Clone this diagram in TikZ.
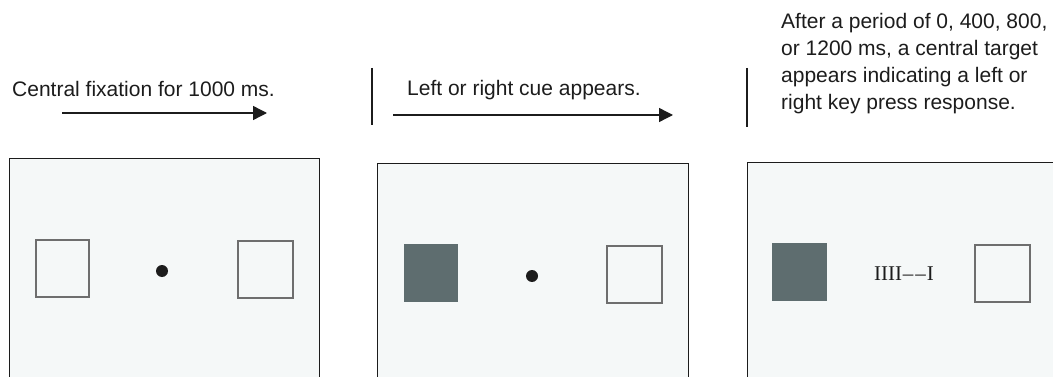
\documentclass[tikz,border=0pt]{standalone}
\usepackage{fontspec}
\setmainfont{Liberation Sans}
\newfontfamily\serifface{Liberation Serif}
\usetikzlibrary{arrows.meta}
\definecolor{panelbg}{HTML}{F5F8F8}
\definecolor{cuefill}{HTML}{5E6D6F}
\definecolor{sqline}{HTML}{6E6E6E}
\definecolor{ink}{HTML}{1C1C1C}
\begin{document}
\begin{tikzpicture}[x=1pt,y=1pt,
  panel/.style={draw=ink, line width=1.4pt, fill=panelbg, rectangle, inner sep=0pt, anchor=north west},
  emptysq/.style={draw=sqline, line width=1.2pt, fill=panelbg, rectangle, inner sep=0pt, minimum width=54pt, minimum height=56pt},
  fullsq/.style={draw=none, fill=cuefill, rectangle, inner sep=0pt, minimum width=54pt, minimum height=58pt},
  fixdot/.style={circle, fill=ink, inner sep=0pt, minimum size=12pt},
  caption/.style={font=\fontsize{21}{27}\selectfont, text=ink, inner sep=0pt},
  timearrow/.style={draw=ink, line width=1.4pt, -{Triangle[length=14pt,width=14pt]}},
  divider/.style={draw=ink, line width=1.4pt}
]
\useasboundingbox (0,0) rectangle (1053,-377);
\clip (0,0) rectangle (1053,-377);

% panels
\node[panel, minimum width=310pt, minimum height=240pt] (p1) at (9,-158) {};
\node[panel, minimum width=311pt, minimum height=240pt] (p2) at (377,-163) {};
\node[panel, minimum width=320pt, minimum height=240pt] (p3) at (747,-162) {};

% panel 1 contents
\node[emptysq, minimum width=53pt, minimum height=57pt] (p1l) at (62.5,-268.5) {};
\node[fixdot] (p1d) at (162,-271) {};
\node[emptysq, minimum width=55pt, minimum height=57pt] (p1r) at (265.5,-269.5) {};

% panel 2 contents
\node[fullsq] (p2l) at (431,-273) {};
\node[fixdot] (p2d) at (532,-276) {};
\node[emptysq, minimum width=55pt, minimum height=57pt] (p2r) at (634.5,-274.5) {};

% panel 3 contents
\node[fullsq, minimum width=55pt] (p3l) at (799.5,-272) {};
\node[font=\serifface\fontsize{21}{21}\selectfont, text=ink, inner sep=0pt] (p3t) at (904,-274) {IIII\kern1pt{\char"2013}\kern2pt{\char"2013}\kern1pt I};
\node[emptysq, minimum width=55pt, minimum height=57pt] (p3r) at (1002.5,-273.5) {};

% captions
\node[caption, anchor=west] (c1) at (12,-89) {Central fixation for 1000 ms.};
\node[caption, anchor=west] (c2) at (407,-90) {Left or right cue appears.};
\node[caption, anchor=north west, align=left] (c3) at (781,-13)
  {After a period of 0, 400, 800,\\or 1200 ms, a central target\\appears indicating a left or\\right key press response.};

% arrows
\coordinate (a1s) at (62,-113);
\coordinate (a1e) at (267,-113);
\draw[timearrow] (a1s) -- (a1e);
\coordinate (a2s) at (393,-115);
\coordinate (a2e) at (673,-115);
\draw[timearrow] (a2s) -- (a2e);

% dividers
\coordinate (d1t) at (372,-68);
\coordinate (d1b) at (372,-125);
\draw[divider] (d1t) -- (d1b);
\coordinate (d2t) at (747,-68);
\coordinate (d2b) at (747,-127);
\draw[divider] (d2t) -- (d2b);
\end{tikzpicture}
\end{document}
